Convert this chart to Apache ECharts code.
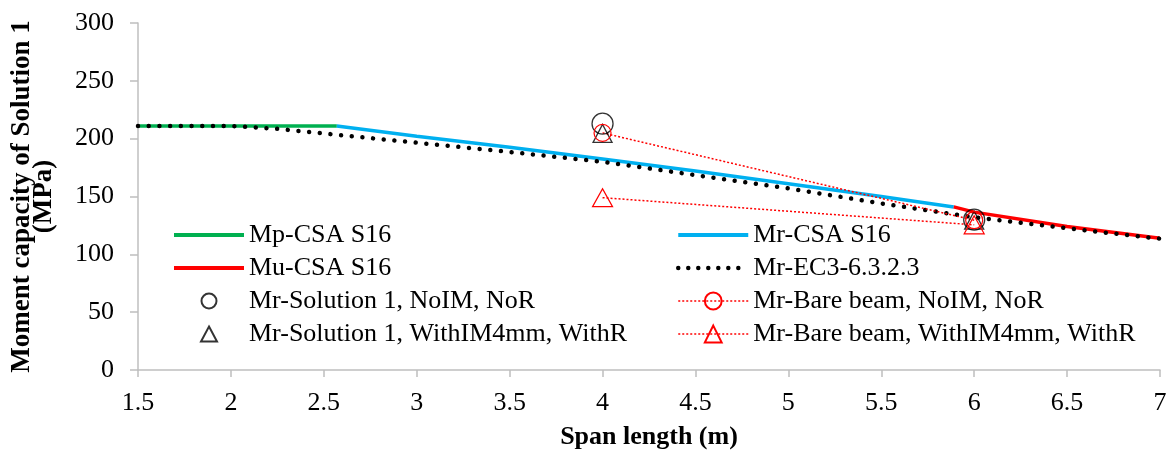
<!DOCTYPE html>
<html>
<head>
<meta charset="utf-8">
<script src="https://cdn.jsdelivr.net/npm/echarts@6/dist/echarts.min.js"></script>
<style>
html,body{margin:0;padding:0;background:#fff;}
#chart{width:1171px;height:455px;}
</style>
</head>
<body>
<div id="chart"></div>
<script>
// ---- data (span length m, moment capacity MPa) ----
const xTicks = [1.5, 2, 2.5, 3, 3.5, 4, 4.5, 5, 5.5, 6, 6.5, 7];
const mpCSA = [[1.5, 211], [2.57, 211]];
const mrCSA = [[2.57, 211], [3, 202], [3.5, 192.5], [4, 182.5], [4.5, 172], [5, 161], [5.5, 150], [5.89, 141]];
const muCSA = [[5.89, 141], [6, 136.5], [6.5, 124], [7, 114]];
const mrEC3 = [[1.5, 211], [2, 211], [2.25, 208.5], [2.5, 204.5], [3, 196.5], [3.5, 188.5], [4, 180], [4.5, 168.5], [5, 157], [5.5, 144], [6, 132], [6.5, 122.5], [7, 113.5]];
const sol1NoIM = [[4, 213], [6, 130]];
const sol1WithIM = [[4, 204.5], [6, 129.5]];
const bareNoIM = [[4, 205], [6, 129.5]];
const bareWithIM = [[4, 149], [6, 125.5]];

const FONT = '"Liberation Serif", "Times New Roman", serif';
const chart = echarts.init(document.getElementById('chart'));
const axisGray = '#bfbfbf';
const hideSym = { color: 'transparent', borderColor: 'transparent', borderWidth: 0 };

chart.setOption({
  animation: false,
  backgroundColor: '#fff',
  grid: { left: 138, right: 11, top: 23, bottom: 84 },
  xAxis: {
    type: 'value', min: 1.5, max: 7, interval: 0.5,
    name: 'Span length (m)', nameLocation: 'middle', nameGap: 67,
    nameTextStyle: { fontFamily: FONT, fontSize: 26, fontWeight: 'bold', color: '#000', verticalAlign: 'middle' },
    axisLine: { lineStyle: { color: axisGray, width: 1.5 } },
    axisTick: { show: true, length: 7, lineStyle: { color: axisGray, width: 1.5 } },
    axisLabel: { fontFamily: FONT, fontSize: 26, color: '#000', margin: 20,
      formatter: v => String(xTicks.find(t => Math.abs(t - v) < 1e-9) ?? v) },
    splitLine: { show: false }
  },
  yAxis: {
    type: 'value', min: 0, max: 300, interval: 50,
    name: 'Moment capacity of Solution 1\n(MPa)', nameLocation: 'middle', nameGap: 105,
    nameTextStyle: { fontFamily: FONT, fontSize: 27, fontWeight: 'bold', color: '#000', verticalAlign: 'middle', align: 'center', lineHeight: 22 },
    axisLine: { show: true, lineStyle: { color: axisGray, width: 1.5 } },
    axisTick: { show: true, length: 8, lineStyle: { color: axisGray, width: 1.5 } },
    axisLabel: { fontFamily: FONT, fontSize: 26, color: '#000', margin: 24 },
    splitLine: { show: false }
  },
  legend: [
    {
      orient: 'vertical', left: 167, top: 217,
      itemWidth: 70, itemHeight: 15, itemGap: 7, symbolKeepAspect: true,
      textStyle: { fontFamily: FONT, fontSize: 26, color: '#000', lineHeight: 26 },
      data: [
        { name: 'Mp-CSA S16', lineStyle: { width: 4 }, itemStyle: hideSym },
        { name: 'Mu-CSA S16', lineStyle: { width: 4 }, itemStyle: hideSym },
        { name: 'Mr-Solution 1, NoIM, NoR', icon: 'circle', symbolKeepAspect: true },
        { name: 'Mr-Solution 1, WithIM4mm, WithR', icon: 'path://M8,0 L16,15 L0,15 Z', symbolKeepAspect: true }
      ]
    },
    {
      orient: 'vertical', left: 671, top: 217,
      itemWidth: 70, itemHeight: 21, itemGap: 7,
      textStyle: { fontFamily: FONT, fontSize: 26, color: '#000', lineHeight: 26 },
      data: [
        { name: 'Mr-CSA S16', lineStyle: { width: 4 }, itemStyle: hideSym },
        { name: 'Mr-EC3-6.3.2.3', lineStyle: { width: 4.5, type: [0.01, 10], cap: 'round' }, itemStyle: hideSym },
        { name: 'Mr-Bare beam, NoIM, NoR', lineStyle: { width: 1.5, type: [2, 2] } },
        { name: 'Mr-Bare beam, WithIM4mm, WithR', lineStyle: { width: 1.5, type: [2, 2] } }
      ]
    }
  ],
  series: [
    { name: 'Mp-CSA S16', type: 'line', data: mpCSA, symbol: 'none', z: 3,
      lineStyle: { color: '#00b050', width: 3.5 }, itemStyle: { color: '#00b050' } },
    { name: 'Mr-CSA S16', type: 'line', data: mrCSA, symbol: 'none', z: 3,
      lineStyle: { color: '#00b0f0', width: 3.5 }, itemStyle: { color: '#00b0f0' } },
    { name: 'Mu-CSA S16', type: 'line', data: muCSA, symbol: 'none', z: 3,
      lineStyle: { color: '#ff0000', width: 3.5 }, itemStyle: { color: '#ff0000' } },
    { name: 'Mr-EC3-6.3.2.3', type: 'line', data: mrEC3, symbol: 'none', z: 4,
      lineStyle: { color: '#000', width: 4.5, type: [0.01, 10.7], cap: 'round' }, itemStyle: { color: '#000' } },
    { name: 'Mr-Solution 1, NoIM, NoR', type: 'scatter', data: sol1NoIM, symbol: 'circle', symbolSize: 21, z: 5,
      symbolKeepAspect: true,
      itemStyle: { color: 'transparent', borderColor: '#000', borderWidth: 1.3 } },
    { name: 'Mr-Solution 1, WithIM4mm, WithR', type: 'scatter', data: sol1WithIM, symbol: 'triangle', symbolSize: [19, 18], z: 5,
      symbolKeepAspect: true,
      itemStyle: { color: 'transparent', borderColor: '#000', borderWidth: 1.3 } },
    { name: 'Mr-Bare beam, NoIM, NoR', type: 'line', data: bareNoIM, symbol: 'circle', symbolSize: 17, z: 5,
      lineStyle: { color: '#ff0000', width: 1.5, type: [2, 2] },
      itemStyle: { color: 'transparent', borderColor: '#ff0000', borderWidth: 1.2 } },
    { name: 'Mr-Bare beam, WithIM4mm, WithR', type: 'line', data: bareWithIM, symbol: 'triangle', symbolSize: [20, 18], z: 5,
      lineStyle: { color: '#ff0000', width: 1.5, type: [2, 2] },
      itemStyle: { color: 'transparent', borderColor: '#ff0000', borderWidth: 1.2 } }
  ]
});
</script>
</body>
</html>
